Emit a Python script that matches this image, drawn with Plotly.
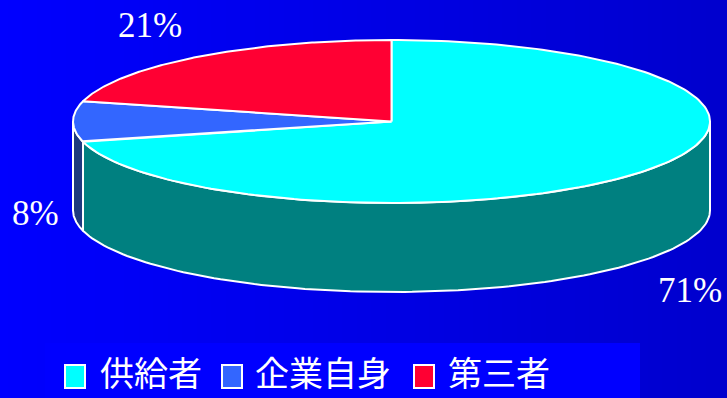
import numpy as np
import plotly.graph_objects as go

# ---- data ----
categories = ["供給者", "企業自身", "第三者"]
values = [71, 8, 21]
top_colors = ["#00FFFF", "#3366FF", "#FF0033"]
side_colors = ["#008080", "#1F3A80", "#990022"]
label_texts = [f"{v}%" for v in values]

# ---- layout constants (pixel space) ----
W, H = 727, 398
CX, CY = 391.5, 121.5
RX, RY = 318.5, 81.5
DEPTH = 89

def pt(theta_deg, dy=0.0):
    t = np.radians(theta_deg)
    return CX + RX * np.sin(t), CY - RY * np.cos(t) + dy

fig = go.Figure()

# background gradient
fig.add_trace(go.Heatmap(
    x=[0, W], y=[0, H], z=[[0, 1], [0, 1]],
    colorscale=[[0, "rgb(0,0,255)"], [1, "rgb(0,0,205)"]],
    zsmooth="best", showscale=False, hoverinfo="skip"))

total = sum(values)
angles = []
a = 0.0
for v in values:
    angles.append((a, a + 360.0 * v / total))
    a += 360.0 * v / total

# sides (front half: 90..270 deg clockwise from top)
for (a0, a1), col in zip(angles, side_colors):
    s0, s1 = max(a0, 90), min(a1, 270)
    if s1 <= s0:
        continue
    th = np.linspace(s0, s1, 120)
    xt, yt = pt(th)
    xb, yb = pt(th[::-1], DEPTH)
    xs = np.concatenate([xt, xb, xt[:1]])
    ys = np.concatenate([yt, yb, yt[:1]])
    fig.add_trace(go.Scatter(x=xs, y=ys, fill="toself", fillcolor=col,
                             mode="lines", line=dict(color="white", width=2),
                             hoverinfo="skip", showlegend=False))

# tops
for (a0, a1), col, name in zip(angles, top_colors, categories):
    th = np.linspace(a0, a1, 200)
    xa, ya = pt(th)
    xs = np.concatenate([[CX], xa, [CX]])
    ys = np.concatenate([[CY], ya, [CY]])
    fig.add_trace(go.Scatter(x=xs, y=ys, fill="toself", fillcolor=col,
                             mode="lines", line=dict(color="white", width=2),
                             name=name, hoverinfo="skip", showlegend=False))

# percentage labels
label_pos = [(690, 290), (35, 213), (150, 25)]
annotations = []
for txt, (lx, ly) in zip(label_texts, label_pos):
    annotations.append(dict(x=lx, y=ly, xref="x", yref="y", text=txt,
                            showarrow=False,
                            font=dict(family="Liberation Serif", size=35, color="white")))

# custom legend
shapes = [dict(type="rect", xref="x", yref="y", x0=45, x1=640, y0=343, y1=398,
               fillcolor="rgb(0,0,255)", line=dict(width=0), layer="above")]
leg_box_x = [65, 222, 414]
leg_text_x = [98, 253, 446]
for bx, tx, col, name in zip(leg_box_x, leg_text_x, top_colors, categories):
    shapes.append(dict(type="rect", xref="x", yref="y", x0=bx, x1=bx + 20,
                       y0=365, y1=388, fillcolor=col,
                       line=dict(color="white", width=2), layer="above"))
    annotations.append(dict(x=tx, y=398, xref="x", yref="y", text=name,
                            showarrow=False, xanchor="left", yanchor="bottom",
                            font=dict(family="Noto Sans CJK JP", size=34, color="white")))

fig.update_layout(
    width=W, height=H, margin=dict(l=0, r=0, t=0, b=0),
    paper_bgcolor="rgb(0,0,235)", plot_bgcolor="rgb(0,0,235)",
    xaxis=dict(range=[0, W], visible=False, fixedrange=True),
    yaxis=dict(range=[H, 0], visible=False, fixedrange=True),
    shapes=shapes, annotations=annotations, showlegend=False,
)

fig.write_html("out.html")
